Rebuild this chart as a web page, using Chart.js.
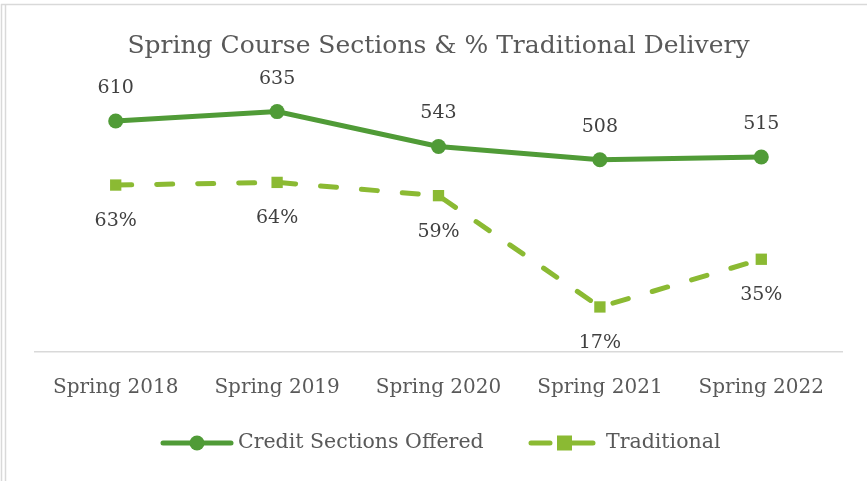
<!DOCTYPE html>
<html>
<head>
<meta charset="utf-8">
<script src="https://cdn.jsdelivr.net/npm/chart.js@4/dist/chart.umd.min.js"></script>
<style>
    html, body { margin: 0; padding: 0; background: #fff; }
    #wrap { position: relative; width: 867px; height: 481px; }
</style>
</head>
<body>
<div id="wrap"><canvas id="sectionsChart" width="867" height="481"></canvas></div>
<script>
    // Chart data
    const terms = ['Spring 2018', 'Spring 2019', 'Spring 2020', 'Spring 2021', 'Spring 2022'];
    const creditSections = [610, 635, 543, 508, 515];
    const traditionalPct = [63, 64, 59, 17, 35];

    const titleText = 'Spring Course Sections & % Traditional Delivery';
    const seriesNames = ['Credit Sections Offered', 'Traditional'];

    const solidGreen = 'rgb(80, 155, 55)';
    const lightGreen = 'rgb(139, 186, 51)';
    const serif = '"DejaVu Serif", "Liberation Serif", serif';

    // Title, data labels, legend and frame drawn after the chart
    const decorPlugin = {
        id: 'decor',
        afterDatasetsDraw(chart) {
            const ctx = chart.ctx;
            const area = chart.chartArea;
            ctx.save();

            // frame
            ctx.strokeStyle = '#d9d9d9';
            ctx.lineWidth = 1.5;
            ctx.beginPath();
            ctx.moveTo(1.5, 4); ctx.lineTo(1.5, 481);
            ctx.moveTo(5.5, 4); ctx.lineTo(5.5, 481);
            ctx.moveTo(1, 4.5); ctx.lineTo(867, 4.5);
            ctx.stroke();

            // title
            ctx.fillStyle = '#595959';
            ctx.font = '25px ' + serif;
            ctx.textAlign = 'center';
            ctx.textBaseline = 'middle';
            ctx.fillText(titleText, (area.left + area.right) / 2, 46);

            // data labels
            ctx.fillStyle = '#404040';
            ctx.font = '19px ' + serif;
            chart.getDatasetMeta(0).data.forEach(function(pt, i) {
                ctx.fillText(String(creditSections[i]), pt.x, pt.y - 33);
            });
            chart.getDatasetMeta(1).data.forEach(function(pt, i) {
                ctx.fillText(traditionalPct[i] + '%', pt.x, pt.y + 36);
            });

            // legend
            const ly = 443;
            ctx.lineCap = 'round';
            ctx.lineWidth = 5;
            ctx.strokeStyle = solidGreen;
            ctx.beginPath();
            ctx.moveTo(163, ly); ctx.lineTo(231, ly);
            ctx.stroke();
            ctx.fillStyle = solidGreen;
            ctx.beginPath();
            ctx.arc(197, ly, 7.5, 0, Math.PI * 2);
            ctx.fill();

            ctx.strokeStyle = lightGreen;
            ctx.beginPath();
            ctx.moveTo(531, ly); ctx.lineTo(550, ly);
            ctx.moveTo(572, ly); ctx.lineTo(593, ly);
            ctx.stroke();
            ctx.fillStyle = lightGreen;
            ctx.fillRect(557, ly - 7.5, 15, 15);

            ctx.fillStyle = '#595959';
            ctx.font = '20.5px ' + serif;
            ctx.textAlign = 'left';
            ctx.fillText(seriesNames[0], 238, ly);
            ctx.fillText(seriesNames[1], 606, ly);

            ctx.restore();
        }
    };

    new Chart(document.getElementById('sectionsChart'), {
        type: 'line',
        data: {
            labels: terms,
            datasets: [{
                label: seriesNames[0],
                data: creditSections,
                yAxisID: 'y',
                borderColor: solidGreen,
                backgroundColor: solidGreen,
                borderWidth: 5,
                borderCapStyle: 'round',
                pointStyle: 'circle',
                pointRadius: 7.5,
                pointBorderWidth: 0,
                tension: 0
            }, {
                label: seriesNames[1],
                data: traditionalPct,
                yAxisID: 'y1',
                borderColor: lightGreen,
                backgroundColor: lightGreen,
                borderWidth: 5,
                borderDash: [16, 25],
                borderCapStyle: 'round',
                pointStyle: 'rect',
                pointRadius: 8,
                pointBorderWidth: 0,
                tension: 0
            }]
        },
        options: {
            responsive: false,
            animation: false,
            layout: { padding: { top: 87, left: 35, right: 25, bottom: 0 } },
            plugins: {
                legend: { display: false },
                title: { display: false },
                tooltip: { enabled: false }
            },
            scales: {
                x: {
                    offset: true,
                    grid: { display: false, drawTicks: false },
                    border: { display: true, color: '#d9d9d9', width: 1.5 },
                    ticks: {
                        color: '#595959',
                        font: { family: serif, size: 20 },
                        padding: 24,
                        maxRotation: 0
                    },
                    afterFit(scale) { scale.height = 129; }
                },
                y: {
                    display: false,
                    min: 0,
                    max: 700
                },
                y1: {
                    display: false,
                    min: 0,
                    max: 100
                }
            }
        },
        plugins: [decorPlugin]
    });
</script>
</body>
</html>
